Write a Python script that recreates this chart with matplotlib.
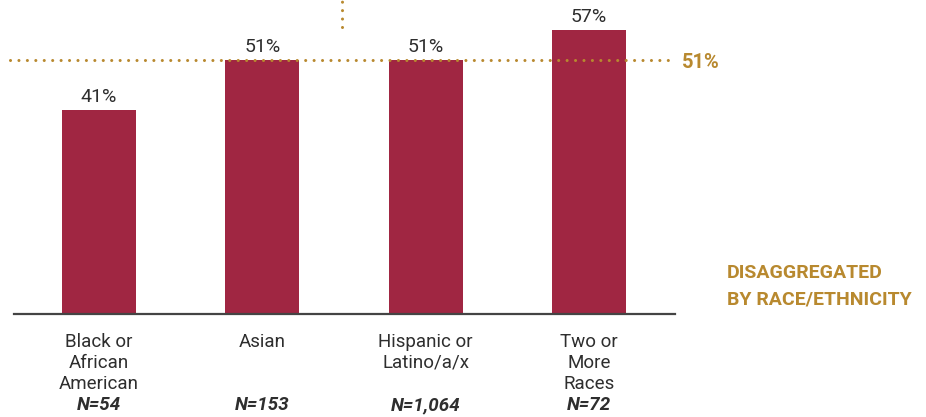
import matplotlib
matplotlib.use("Agg")
import matplotlib.pyplot as plt

# dados
categorias = ["Black or\nAfrican\nAmerican", "Asian", "Hispanic or\nLatino/a/x", "Two or\nMore\nRaces"]
amostras = ["N=54", "N=153", "N=1,064", "N=72"]
percentuais = [41, 51, 51, 57]
referencia = 51

cor_barra = "#A02642"
cor_ouro = "#B8892F"
cor_texto = "#2E2E2E"

plt.rcParams["font.family"] = ["Roboto", "DejaVu Sans"]

fig = plt.figure(figsize=(9.26, 4.17), dpi=100)
# eixo ocupa de x=14px a x=675px, base em y=314px
ax = fig.add_axes([14 / 926, 103 / 417, 661 / 926, 314 / 417])

posicoes = list(range(len(categorias)))
ax.bar(posicoes, percentuais, width=0.453, color=cor_barra, zorder=2)

ax.set_xlim(-0.52, 3.527)
ax.set_ylim(0, 63.05)

for s in ["top", "right", "left"]:
    ax.spines[s].set_visible(False)
ax.spines["bottom"].set_color("#444444")
ax.spines["bottom"].set_linewidth(1.6)
ax.set_xticks([])
ax.set_yticks([])

# rótulos de valor
for x, v in zip(posicoes, percentuais):
    ax.text(x, v + 0.8, f"{v}%", ha="center", va="bottom", fontsize=14, color=cor_texto)

# linha de referência pontilhada
pontilhado = (0, (0.01, 2.75))
ax.plot([-0.545, 3.497], [referencia, referencia], color=cor_ouro, linewidth=2.2,
        linestyle=pontilhado, dash_capstyle="round", clip_on=False, zorder=3)
ax.text(3.57, referencia - 0.6, f"{referencia}%", ha="left", va="center", fontsize=14.5,
        fontweight="bold", color=cor_ouro)

# linha vertical pontilhada no topo
ax.plot([1.488, 1.488], [57.6, 63.5], color=cor_ouro, linewidth=2.2,
        linestyle=pontilhado, dash_capstyle="round", clip_on=False, zorder=3)

# rótulos das categorias
trans = ax.get_xaxis_transform()
for x, cat, n in zip(posicoes, categorias, amostras):
    ax.text(x, -(333 - 314) / 314, cat, transform=trans, ha="center", va="top",
            fontsize=13.5, color=cor_texto, linespacing=1.2)
    ax.text(x, -(405 - 314) / 314, n, transform=trans, ha="center", va="center",
            fontsize=13.5, fontweight="bold", fontstyle="italic", color=cor_texto)

fig.text(727 / 926, 1 - 273 / 417, "DISAGGREGATED", ha="left", va="center",
         fontsize=14, fontweight="bold", color=cor_ouro)
fig.text(727 / 926, 1 - 299 / 417, "BY RACE/ETHNICITY", ha="left", va="center",
         fontsize=14, fontweight="bold", color=cor_ouro)

fig.savefig("out.png", dpi=100)
